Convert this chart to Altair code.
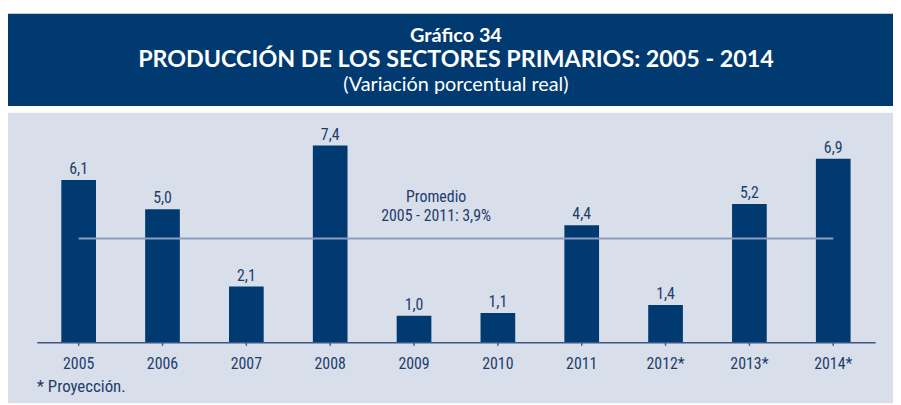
import altair as alt
import pandas as pd

# ---- data ----
years = ["2005", "2006", "2007", "2008", "2009", "2010", "2011", "2012*", "2013*", "2014*"]
values = [6.1, 5.0, 2.1, 7.4, 1.0, 1.1, 4.4, 1.4, 5.2, 6.9]
average_value = 3.9
average_from = "2005"
average_to = "2014*"
average_text = ["Promedio", "2005 - 2011: 3,9%"]
title_lines = ["Gráfico 34", "PRODUCCIÓN DE LOS SECTORES PRIMARIOS: 2005 - 2014", "(Variación porcentual real)"]
footnote = "* Proyección."

NAVY = "#003a70"
TEXT = "#1d3d6c"
BG = "#d9dfea"
LINE = "#8c9dc1"
FONT = "Liberation Sans Narrow, Roboto Condensed, DejaVu Sans Condensed, Lato, sans-serif"
TFONT = "Lato"

df = pd.DataFrame({"year": years, "value": values})
df["label"] = [f"{v:.1f}".replace(".", ",") for v in values]

W = 893
H = 397
STEP = (875 - 29) / len(years)

# ---- decoration: banner and grey panel ----
deco = pd.DataFrame({"k": ["banner", "panel"]})
banner_rect = alt.Chart(deco).transform_filter("datum.k == 'banner'").mark_rect(color=NAVY).encode(
    x=alt.value(0), x2=alt.value(W), y=alt.value(4), y2=alt.value(97)
)
panel_rect = alt.Chart(deco).transform_filter("datum.k == 'panel'").mark_rect(color=BG).encode(
    x=alt.value(0), x2=alt.value(W), y=alt.value(104), y2=alt.value(H)
)

tdf = pd.DataFrame({"line": title_lines, "i": [0, 1, 2]})
t1 = alt.Chart(tdf).transform_filter("datum.i == 0").mark_text(
    font=TFONT, fontSize=20, fontWeight="bold", color="white", align="center", baseline="alphabetic"
).encode(text="line:N", x=alt.value(452), y=alt.value(33))
t2 = alt.Chart(tdf).transform_filter("datum.i == 1").mark_text(
    font=TFONT, fontSize=23.5, fontWeight="bold", color="white", align="center", baseline="alphabetic"
).encode(text="line:N", x=alt.value(452), y=alt.value(58))
t3 = alt.Chart(tdf).transform_filter("datum.i == 2").mark_text(
    font=TFONT, fontSize=20, color="white", align="center", baseline="alphabetic"
).encode(text="line:N", x=alt.value(452), y=alt.value(82))

# ---- main chart ----
xscale = alt.Scale(domain=years, range=[29, 875], paddingInner=0, paddingOuter=0)
yscale = alt.Scale(domain=[0, 7.4], range=[335.5, 137], nice=False, zero=True)

xenc = alt.X(
    "year:N", scale=xscale, title=None,
    axis=alt.Axis(
        labelAngle=0, ticks=False, domainColor="#3a5784", domainWidth=1.5,
        labelFont=FONT, labelFontSize=16, labelColor=TEXT, labelPadding=13,
        offset=-61.5, grid=False, zindex=1,
    ),
)
yenc = alt.Y("value:Q", scale=yscale, axis=None)

base = alt.Chart(df)
bars = base.mark_bar(width=35, color=NAVY).encode(x=xenc, y=yenc)
labels = base.mark_text(
    font=FONT, fontSize=16, color=TEXT, baseline="alphabetic", dy=-6
).encode(x=alt.X("year:N"), y=alt.Y("value:Q"), text="label:N")

ticks = base.mark_rule(color="#3a5784", strokeWidth=1.5).encode(
    x=alt.X("year:N"),
    xOffset=alt.value(-STEP / 2),
    y=alt.value(335.5), y2=alt.value(339),
)
last_tick = base.transform_filter(alt.datum.year == years[-1]).mark_rule(
    color="#3a5784", strokeWidth=1.5
).encode(
    x=alt.X("year:N"),
    xOffset=alt.value(STEP / 2),
    y=alt.value(335.5), y2=alt.value(339),
)

avg_df = pd.DataFrame({"a": [average_from], "b": [average_to], "v": [average_value]})
avg_rule = alt.Chart(avg_df).mark_rule(color=LINE, strokeWidth=2).encode(
    x=alt.X("a:N"),
    x2="b:N",
    y=alt.Y("v:Q"),
)
adf = pd.DataFrame({"t": average_text, "i": [0, 1]})
avg_txt1 = alt.Chart(adf).transform_filter("datum.i == 0").mark_text(
    font=FONT, fontSize=16, color=TEXT, align="center", baseline="alphabetic"
).encode(text="t:N", x=alt.value(432), y=alt.value(194))
avg_txt2 = alt.Chart(adf).transform_filter("datum.i == 1").mark_text(
    font=FONT, fontSize=16, color=TEXT, align="center", baseline="alphabetic"
).encode(text="t:N", x=alt.value(432), y=alt.value(213))

foot = alt.Chart(pd.DataFrame({"t": [footnote]})).mark_text(
    font=FONT, fontSize=17, color=TEXT, align="left", baseline="alphabetic"
).encode(text="t:N", x=alt.value(29), y=alt.value(386))

chart = alt.layer(
    banner_rect, panel_rect, t1, t2, t3,
    bars, avg_rule, labels, ticks, last_tick, avg_txt1, avg_txt2, foot,
).properties(
    width=W, height=H, padding=0, autosize=alt.AutoSizeParams(type="none"), background="white"
).configure_view(stroke=None)

chart.save("out.html", embed_options={"renderer": "svg", "actions": False})
